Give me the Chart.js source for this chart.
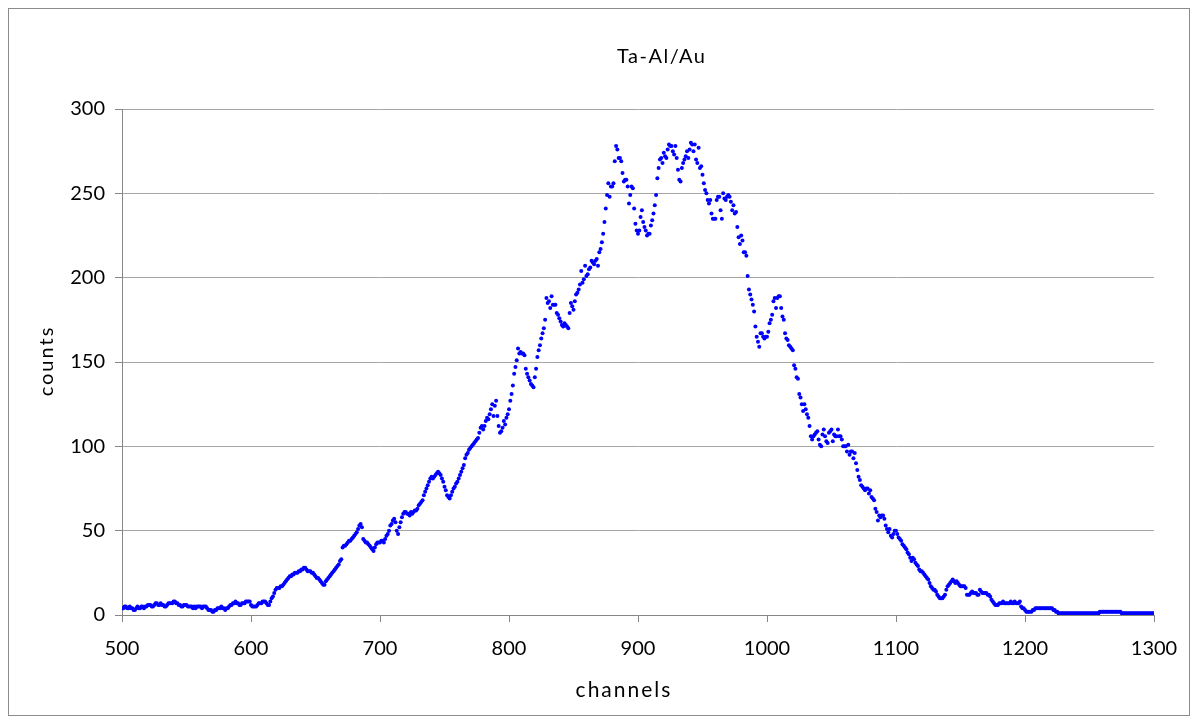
<!DOCTYPE html>
<html>
<head>
<meta charset="utf-8">
<script src="https://cdn.jsdelivr.net/npm/chart.js@4"></script>
<style>
  html, body { margin: 0; padding: 0; background: #ffffff; }
  #wrap { width: 1198px; height: 724px; }
</style>
</head>
<body>
<div id="wrap"><canvas id="c" width="1198" height="724"></canvas></div>
<script>
const chartTitle = "Ta-Al/Au";
const xAxisTitle = "channels";
const yAxisTitle = "counts";
const xTicks = [500, 600, 700, 800, 900, 1000, 1100, 1200, 1300];
const yTicks = [0, 50, 100, 150, 200, 250, 300];
const firstChannel = 500;

// counts per channel (one value per channel)
const counts500 = [4,4,5,5,4,4,5,4,4,3, 3,4,5,4,4,5,5,4,5,5, 6,6,6,5,5,6,7,7,6,6, 7,6,6,5,5,6,7,7,7,7,
  8,8,7,7,6,6,5,5,6,6, 6,5,5,5,5,4,5,4,5,5, 5,5,4,5,5,5,4,3,3,3, 2,2,3,3,4,4,4,5,4,4,
  3,4,4,5,6,6,7,7,8,7, 7,6,6,7,7,7,8,8,8,8];
const counts600 = [6,5,5,5,5,6,7,7,7,8, 8,8,7,6,6,8,10,11,13,15, 16,16,16,17,17,18,19,20,21,22,
  23,23,24,24,25,25,25,26,26,27, 27,28,28,27,26,26,26,25,25,24, 23,22,22,21,20,19,18,18,20,21,
  22,23,24,25,26,27,28,29,30,32, 33,40,41,41,42,43,44,44,45,46, 47,48,49,51,53,54,52,45,44,43,
  43,42,41,40,39,38,40,42,43,43];
const counts700 = [43,44,44,43,45,47,48,50,53,54, 56,57,55,50,48,52,55,58,60,61, 61,60,60,59,61,60,61,62,62,63,
  65,66,67,68,71,73,75,77,79,81, 82,81,82,83,84,85,84,83,81,79, 76,74,71,70,69,71,73,75,76,78,
  79,81,83,85,87,89,93,95,96,98, 99,100,101,102,103,104,105,108,111,112, 110,112,115,117,116,119,122,125,118,124,
  127,118,112,108,109,111,115,113,117,119];
const counts800 = [122,127,131,136,143,147,151,158,155,156, 155,155,154,146,143,141,139,137,136,135,
  141,146,153,157,160,164,167,170,175,188, 185,186,182,189,184,184,184,179,178,176,
  174,172,171,173,172,171,170,179,185,183, 181,186,190,191,193,196,204,197,199,207,
  201,202,205,206,210,209,208,210,211,207, 215,217,221,226,233,241,249,256,248,254,
  254,256,269,278,276,271,271,269,262,257, 258,258,254,244,249,254,253,241,232,228];
const counts900 = [226,228,236,240,233,230,228,225,226,226, 231,234,238,243,249,259,265,270,271,268,
  274,272,271,276,279,278,278,275,273,278, 271,264,258,257,265,268,270,272,275,271,
  276,280,279,275,279,270,268,277,265,266, 261,256,252,250,246,244,246,238,235,235,
  235,246,248,248,240,235,250,247,246,248, 249,248,245,240,243,238,239,230,224,220,
  225,222,215,215,213,201,193,190,187,184, 180,171,165,162,159,167,167,165,164,165];
const counts1000 = [165,168,173,175,178,186,188,182,188,189, 189,182,177,175,167,164,163,160,159,158,
  157,148,146,141,140,131,129,125,121,125, 122,119,117,112,106,104,106,107,108,109,
  104,101,100,107,110,106,103,102,108,109, 110,103,107,106,106,110,106,106,104,100,
  100,100,97,101,95,97,97,93,96,90, 86,82,80,77,76,75,74,75,75,72,
  74,70,69,68,63,61,56,59,58,59, 59,57,53,51,49,51,47,46,48,50];
const counts1100 = [50,48,46,45,44,42,41,40,39,37, 36,34,32,34,33,31,30,29,27,26, 26,25,24,23,22,21,19,17,16,15,
  15,14,12,11,10,10,10,11,12,15, 17,18,19,20,21,20,19,20,19,18, 17,17,17,17,16,12,12,12,13,14,
  13,13,13,12,12,15,14,13,13,13, 13,12,12,11,9,8,7,6,6,6, 7,7,7,8,7,7,7,7,7,8,
  7,7,8,7,7,7,8,5,4,4];
const counts1200 = [3,2,2,2,2,2,3,3,4,4, 4,4,4,4,4,4,4,4,4,4, 4,4,3,3,2,2,1,1,1,1, 1,1,1,1,1,1,1,1,1,1,
  1,1,1,1,1,1,1,1,1,1, 1,1,1,1,1,1,1,1,2,2, 2,2,2,2,2,2,2,2,2,2, 2,2,2,2,2,1,1,1,1,1,
  1,1,1,1,1,1,1,1,1,1, 1,1,1,1,1,1,1,1,1,1, 1];

const allCounts = [].concat(counts500, counts600, counts700, counts800, counts900, counts1000, counts1100, counts1200);
const points = allCounts.map((v, i) => ({ x: firstChannel + i, y: v }));

const FONT = "Lato, 'Open Sans', sans-serif";

function spacedText(ctx, text, x, y, spacing) {
  if ('letterSpacing' in ctx) {
    ctx.letterSpacing = spacing + 'px';
    ctx.fillText(text, x + spacing / 2, y);
    ctx.letterSpacing = '0px';
  } else {
    ctx.fillText(text, x, y);
  }
}

const decor = {
  id: 'decor',
  afterDraw(chart) {
    const ctx = chart.ctx;
    ctx.save();
    ctx.strokeStyle = '#8c8c8c';
    ctx.lineWidth = 1;
    ctx.strokeRect(8.5, 8.5, 1181, 707);
    ctx.fillStyle = '#000';
    ctx.textAlign = 'center';
    ctx.textBaseline = 'middle';
    ctx.font = '20px ' + FONT;
    spacedText(ctx, chartTitle, 661, 57, 1.5);
    ctx.font = '21px ' + FONT;
    spacedText(ctx, xAxisTitle, 623, 690, 2);
    ctx.font = '20px ' + FONT;
    ctx.translate(47, 362);
    ctx.rotate(-Math.PI / 2);
    spacedText(ctx, yAxisTitle, 0, 0, 2);
    ctx.restore();
  }
};

new Chart(document.getElementById('c'), {
  type: 'scatter',
  data: {
    datasets: [{
      data: points,
      backgroundColor: '#0000ff',
      borderColor: '#0000ff',
      borderWidth: 0,
      pointRadius: 2,
      pointHoverRadius: 2
    }]
  },
  options: {
    responsive: false,
    animation: false,
    devicePixelRatio: 1,
    events: [],
    layout: { padding: { left: 0, top: 109, right: 44, bottom: 0 } },
    plugins: { legend: { display: false }, tooltip: { enabled: false }, title: { display: false } },
    scales: {
      x: {
        type: 'linear',
        min: 500, max: 1300,
        afterBuildTicks: s => { s.ticks = xTicks.map(v => ({ value: v })); },
        afterFit: s => { s.height = 109; },
        ticks: { color: '#000', font: { family: FONT, size: 20 }, padding: 15, maxRotation: 0,
                 callback: v => String(v) },
        grid: { drawOnChartArea: false, drawTicks: true, tickLength: 7, color: '#868686', tickColor: '#868686' },
        border: { color: '#868686', width: 1 }
      },
      y: {
        min: 0, max: 300,
        afterBuildTicks: s => { s.ticks = yTicks.map(v => ({ value: v })); },
        afterFit: s => { s.width = 122; },
        ticks: { color: '#000', font: { family: FONT, size: 20 }, padding: 10, callback: v => String(v) },
        grid: { color: '#a6a6a6', tickColor: '#868686', tickLength: 7 },
        border: { color: '#868686', width: 1 }
      }
    }
  },
  plugins: [decor]
});
</script>
</body>
</html>
